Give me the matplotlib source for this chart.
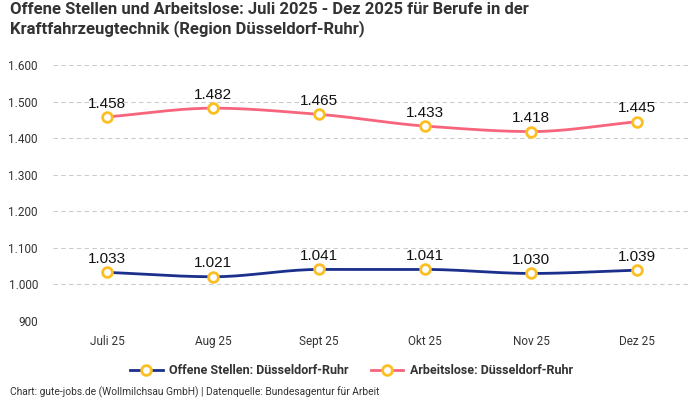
import numpy as np
import matplotlib
matplotlib.use('Agg')
import matplotlib.pyplot as plt
from matplotlib.lines import Line2D

months = ['Juli 25', 'Aug 25', 'Sept 25', 'Okt 25', 'Nov 25', 'Dez 25']
offene = [1033, 1021, 1041, 1041, 1030, 1039]
arbeitslose = [1458, 1482, 1465, 1433, 1418, 1445]
yticks = [900, 1000, 1100, 1200, 1300, 1400, 1500, 1600]

blue = '#1b2f8c'
pink = '#f7657d'
yellow = '#fbbf24'

def de(v):
    return f'{v:,}'.replace(',', '.')

def smooth(y, n=30):
    # monotone cubic (Fritsch-Carlson) for curve drawing
    y = np.asarray(y, float)
    x = np.arange(len(y), dtype=float)
    d = np.diff(y)
    m = np.zeros_like(y)
    m[0], m[-1] = d[0], d[-1]
    for i in range(1, len(y) - 1):
        if d[i - 1] * d[i] <= 0:
            m[i] = 0
        else:
            m[i] = 2 / (1 / d[i - 1] + 1 / d[i])
    xs, ys = [], []
    for i in range(len(y) - 1):
        t = np.linspace(0, 1, n)
        h00 = 2*t**3 - 3*t**2 + 1
        h10 = t**3 - 2*t**2 + t
        h01 = -2*t**3 + 3*t**2
        h11 = t**3 - t**2
        xs.append(x[i] + t)
        ys.append(h00*y[i] + h10*m[i] + h01*y[i+1] + h11*m[i+1])
    return np.concatenate(xs), np.concatenate(ys)

fig = plt.figure(figsize=(7, 4), dpi=100)
ax = fig.add_axes([0.076, 0.1975, 0.907, 0.64])

x = np.arange(len(months))
for vals, col in [(offene, blue), (arbeitslose, pink)]:
    sx, sy = smooth(vals)
    ax.plot(sx, sy, color=col, lw=2, zorder=2)
    ax.plot(x, vals, 'o', ms=7, mfc='white', mec=yellow, mew=2, zorder=3)
    for xi, v in zip(x, vals):
        ax.annotate(de(v), (xi, v), xytext=(0, 4.5), textcoords='offset points',
                    ha='center', va='bottom', fontsize=11, color='#111111',
                    family='Liberation Sans', fontweight='medium')

ax.set_xlim(-0.51, 5.48)
ax.set_ylim(900, 1600)
ax.set_yticks(yticks)
ax.set_yticklabels([de(v) for v in yticks])
ax.set_xticks(x)
ax.set_xticklabels(months)
ax.tick_params(length=0, labelsize=8.5, labelcolor='#333333')
ax.tick_params(axis='y', pad=11)
ax.tick_params(axis='x', pad=10)
for lab in ax.get_xticklabels() + ax.get_yticklabels():
    lab.set_family('Roboto')
ax.grid(axis='y', color='#cccccc', ls=(0, (4, 3)), lw=0.8)
for s in ax.spines.values():
    s.set_visible(False)

fig.text(0.014, 0.995, 'Offene Stellen und Arbeitslose: Juli 2025 - Dez 2025 für Berufe in der\nKraftfahrzeugtechnik (Region Düsseldorf-Ruhr)',
         ha='left', va='top', fontsize=12, fontweight='bold', color='#333333',
         family='Roboto', linespacing=1.2)

handles = [Line2D([], [], color=blue, lw=2, marker='o', ms=7, mfc='white', mec=yellow, mew=2),
           Line2D([], [], color=pink, lw=2, marker='o', ms=7, mfc='white', mec=yellow, mew=2)]
fig.legend(handles, ['Offene Stellen: Düsseldorf-Ruhr', 'Arbeitslose: Düsseldorf-Ruhr'],
           loc='center', bbox_to_anchor=(0.502, 0.073), ncol=2, frameon=False,
           prop={'family': 'Roboto', 'weight': 'bold', 'size': 9},
           labelcolor='#333333', handlelength=2.6, handletextpad=0.5, columnspacing=1.8)

fig.text(0.014, 0.006, 'Chart: gute-jobs.de (Wollmilchsau GmbH) | Datenquelle: Bundesagentur für Arbeit',
         ha='left', va='bottom', fontsize=7.4, color='#333333', family='Roboto')

fig.savefig('out.png', dpi=100)
